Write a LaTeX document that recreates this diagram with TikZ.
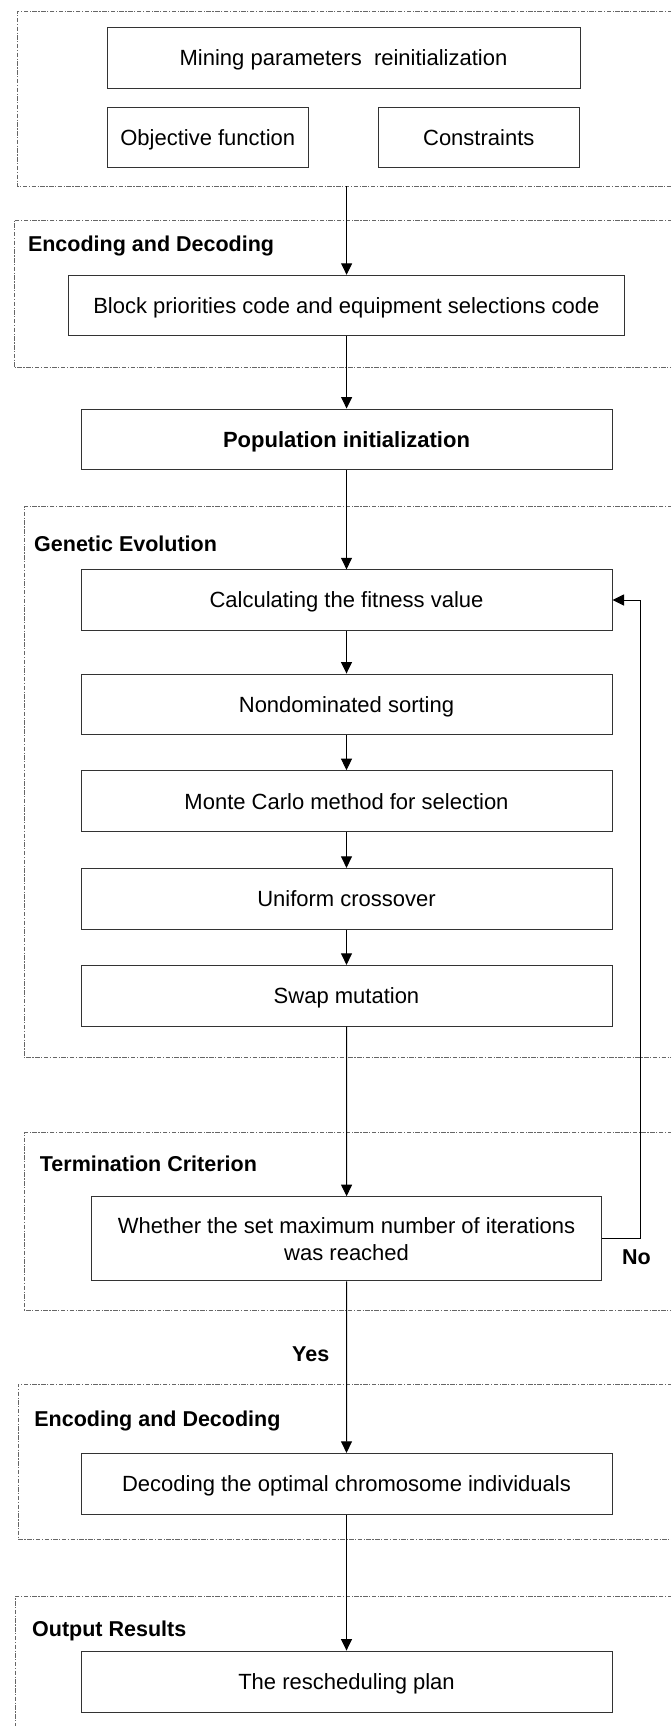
\documentclass[tikz,border=0pt]{standalone}
\usepackage{fontspec}
\setmainfont{Liberation Sans}
\usetikzlibrary{arrows.meta}

\tikzset{
  stepbox/.style={draw=black!80, line width=1pt, inner sep=0pt, align=center,
    font=\fontsize{22}{27}\selectfont, text height=15.75pt, text depth=0pt},
  twoline/.style={text height=, text depth=},
  framebox/.style={draw=black!60, line width=0.9pt,
    dash pattern=on 4.5pt off 1.5pt on 1.2pt off 1.5pt},
  grouplabel/.style={anchor=base west, inner sep=0pt,
    font=\fontsize{21.5}{26}\selectfont\bfseries},
  flow/.style={draw=black, line width=1pt,
    -{Triangle[length=11.5pt,width=11pt]}},
}

\begin{document}
\begin{tikzpicture}[x=1pt,y=-1pt]
\useasboundingbox (0,0) rectangle (670,1726);

% group frames (open to the right)
\draw[framebox] (672,11.7) -- (17,11.7) -- (17,186) -- (672,186);
\draw[framebox] (672,220) -- (14,220) -- (14,367.7) -- (672,367.7);
\draw[framebox] (672,506.7) -- (24.4,506.7) -- (24.4,1057.7) -- (672,1057.7);
\draw[framebox] (672,1132.7) -- (24.4,1132.7) -- (24.4,1310) -- (672,1310);
\draw[framebox] (672,1384.3) -- (18,1384.3) -- (18,1539) -- (672,1539);
\draw[framebox] (672,1596) -- (15.8,1596) -- (15.8,1728);

% group titles
\node[grouplabel] (lenc1) at (27.8,251.7) {Encoding and Decoding};
\node[grouplabel] (lgen) at (34,551.7) {Genetic Evolution};
\node[grouplabel] (lterm) at (39.7,1171.7) {Termination Criterion};
\node[grouplabel] (lenc2) at (34.2,1426) {Encoding and Decoding};
\node[grouplabel] (lout) at (32,1636.7) {Output Results};

% steps
\node[stepbox, minimum width=473pt, minimum height=60.6pt] (mining) at (343.5,58) {Mining parameters\ \ reinitialization};
\node[stepbox, minimum width=201.5pt, minimum height=60pt] (objective) at (207.75,137.3) {Objective function};
\node[stepbox, minimum width=201.5pt, minimum height=60pt] (constraints) at (478.75,137.3) {Constraints};
\coordinate (setupout) at (346.6,186);

\node[stepbox, minimum width=555.6pt, minimum height=60.4pt] (code) at (346.4,305.5) {Block priorities code and equipment selections code};
\node[stepbox, minimum width=531pt, minimum height=60.3pt, font=\fontsize{22}{27}\selectfont\bfseries] (pop) at (346.5,439.2) {Population initialization};
\node[stepbox, minimum width=531pt, minimum height=60.3pt] (fit) at (346.5,600) {Calculating the fitness value};
\node[stepbox, minimum width=531pt, minimum height=60.3pt] (sort) at (346.5,704.2) {Nondominated sorting};
\node[stepbox, minimum width=531pt, minimum height=61.3pt] (select) at (346.5,801.3) {Monte Carlo method for selection};
\node[stepbox, minimum width=531pt, minimum height=60.7pt] (cross) at (346.5,898.7) {Uniform crossover};
\node[stepbox, minimum width=531pt, minimum height=60.7pt] (mutate) at (346.5,995.7) {Swap mutation};
\node[stepbox, twoline, minimum width=509.4pt, minimum height=84.3pt] (check) at (346.6,1238.8) {Whether the set maximum number of iterations\\was reached};
\node[stepbox, minimum width=531pt, minimum height=60.7pt] (decode) at (346.5,1483.7) {Decoding the optimal chromosome individuals};
\node[stepbox, minimum width=531pt, minimum height=61.3pt] (plan) at (346.5,1681.7) {The rescheduling plan};

% connectors
\draw[flow] (setupout) -- (setupout |- code.north);
\draw[flow] (code.south -| setupout) -- (setupout |- pop.north);
\draw[flow] (pop.south) -- (fit.north);
\draw[flow] (fit.south) -- (sort.north);
\draw[flow] (sort.south) -- (select.north);
\draw[flow] (select.south) -- (cross.north);
\draw[flow] (cross.south) -- (mutate.north);
\draw[flow] (mutate.south) -- (check.north);
\coordinate (loop) at (640.7,1238.8);
\draw[flow] (check.east) -- (loop) |- (fit.east);
\draw[flow] (check.south) -- (decode.north);
\draw[flow] (decode.south) -- (plan.north);

% branch labels
\node[grouplabel] (yes) at (292,1361.7) {Yes};
\node[grouplabel] (no) at (621.8,1264) {No};
\end{tikzpicture}
\end{document}
